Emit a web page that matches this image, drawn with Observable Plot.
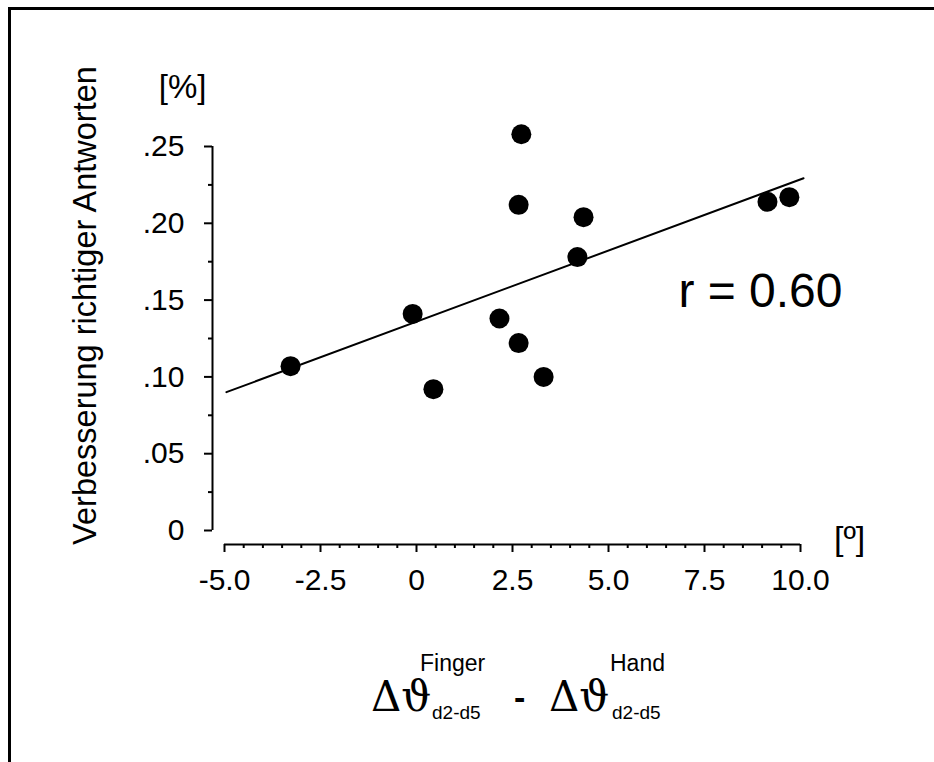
<!DOCTYPE html>
<html><head><meta charset="utf-8">
<script src="https://cdn.jsdelivr.net/npm/d3@7"></script>
<script src="https://cdn.jsdelivr.net/npm/@observablehq/plot@0.6"></script>
<style>
html,body{margin:0;padding:0;background:#fff;overflow:hidden;}
#wrap{position:relative;width:934px;height:762px;overflow:hidden;background:#fff;}
#chart{position:absolute;left:0;top:0;}
#bt{position:absolute;left:8px;top:7px;width:940px;height:3px;background:#000;}
#bl{position:absolute;left:8px;top:7px;width:3px;height:770px;background:#000;}
#cover{position:absolute;left:922px;top:10px;width:20px;height:760px;background:#fff;}
.f{position:absolute;white-space:nowrap;line-height:1;color:#000;}
.serif{font-family:"DejaVu Serif","Liberation Serif",serif;}
.sans{font-family:"Liberation Sans",Arial,sans-serif;}
</style></head><body>
<div id="wrap">
  <div id="chart"></div>
  <div id="xtitle">
    <span class="f serif" style="left:371px;top:676px;font-size:42px;">Δϑ</span>
    <span class="f sans" style="left:420px;top:652px;font-size:23px;">Finger</span>
    <span class="f sans" style="left:432px;top:703px;font-size:19px;">d2-d5</span>
    <span class="f sans" style="left:514px;top:680px;font-size:34px;font-weight:bold;">-</span>
    <span class="f serif" style="left:549px;top:676px;font-size:42px;">Δϑ</span>
    <span class="f sans" style="left:610px;top:652px;font-size:23px;">Hand</span>
    <span class="f sans" style="left:612px;top:703px;font-size:19px;">d2-d5</span>
  </div>
  <div id="cover"></div>
  <div id="bt"></div><div id="bl"></div>
</div>
<script>
// Data
const deltaAngle  = [-3.28, -0.10, 0.44, 2.16, 2.73, 2.66, 2.66, 3.31, 4.19, 4.35, 9.14, 9.71];
const improvement = [0.107, 0.141, 0.092, 0.138, 0.258, 0.212, 0.122, 0.100, 0.178, 0.204, 0.214, 0.217];

const xTicks = [-5, -2.5, 0, 2.5, 5, 7.5, 10];
const xTickLabels = ["-5.0", "-2.5", "0", "2.5", "5.0", "7.5", "10.0"];
const xMinorTicks = [-4.5, -4, -3.5, -3, -2, -1.5, -1, -0.5, 0.5, 1, 1.5, 2, 3, 3.5, 4, 4.5, 5.5, 6, 6.5, 7, 8, 8.5, 9, 9.5];
const yTicks = [0, 0.05, 0.10, 0.15, 0.20, 0.25];
const yTickLabels = ["0", ".05", ".10", ".15", ".20", ".25"];
const yMinorTicks = [0.025, 0.075, 0.125, 0.175, 0.225];
const fitRange = [-4.95, 10.08];
const yTitle = "Verbesserung richtiger Antworten";
const yUnit = "[%]";
const xUnit = "[º]";
const corrLabel = "r = 0.60";

// least-squares fit from the points
const mx = d3.mean(deltaAngle), my = d3.mean(improvement);
const slope = d3.sum(deltaAngle, (x, i) => (x - mx) * (improvement[i] - my)) / d3.sum(deltaAngle, x => (x - mx) ** 2);
const intercept = my - slope * mx;
const fit = fitRange.map(x => ({x, y: intercept + slope * x}));
const points = deltaAngle.map((x, i) => ({x, y: improvement[i]}));

const xLabel = new Map(xTicks.map((t, i) => [t, xTickLabels[i]]));
const yLabel = new Map(yTicks.map((t, i) => [t, yTickLabels[i]]));

const chart = Plot.plot({
  width: 934, height: 762,
  marginLeft: 224, marginRight: 134, marginTop: 66, marginBottom: 218,
  style: {fontFamily: '"Liberation Sans", Arial, sans-serif', background: "transparent", overflow: "visible", color: "#000"},
  x: {domain: [xTicks[0], xTicks[xTicks.length - 1]]},
  y: {domain: [yTicks[0], yTicks[yTicks.length - 1]], range: [530, 146]},
  marks: [
    Plot.ruleY([yTicks[0]], {x1: xTicks[0], x2: xTicks[xTicks.length - 1], dy: 14, strokeWidth: 2}),
    Plot.axisX(xMinorTicks, {tickSize: 4, strokeWidth: 2, tickFormat: () => "", label: null}),
    Plot.axisX(xTicks, {tickSize: 8, tickPadding: 16, strokeWidth: 2, fontSize: 30, tickFormat: d => xLabel.get(d), label: null}),
    Plot.ruleX([xTicks[0]], {y1: yTicks[0], y2: yTicks[yTicks.length - 1], dx: -12, strokeWidth: 2}),
    Plot.axisY(yMinorTicks, {tickSize: 4, dx: -12, strokeWidth: 2, tickFormat: () => "", label: null}),
    Plot.axisY(yTicks, {tickSize: 8, tickPadding: 20, dx: -12, strokeWidth: 2, fontSize: 30, tickFormat: d => yLabel.get(d), label: null}),
    Plot.line(fit, {x: "x", y: "y", strokeWidth: 2}),
    Plot.dot(points, {x: "x", y: "y", r: 10, fill: "black"}),
    Plot.text([yTitle], {frameAnchor: "left", textAnchor: "middle", dx: -139, rotate: -90, fontSize: 32.5, text: d => d}),
    Plot.text([yUnit], {x: -6.09, y: 0.2819, lineAnchor: "bottom", fontSize: 33, text: d => d}),
    Plot.text([xUnit], {x: 11.28, y: -0.013, lineAnchor: "bottom", fontSize: 34, text: d => d}),
    Plot.text([corrLabel], {x: 6.82, y: 0.1458, lineAnchor: "bottom", textAnchor: "start", fontSize: 48, text: d => d})
  ]
});
document.getElementById("chart").appendChild(chart);
</script>
</body></html>
